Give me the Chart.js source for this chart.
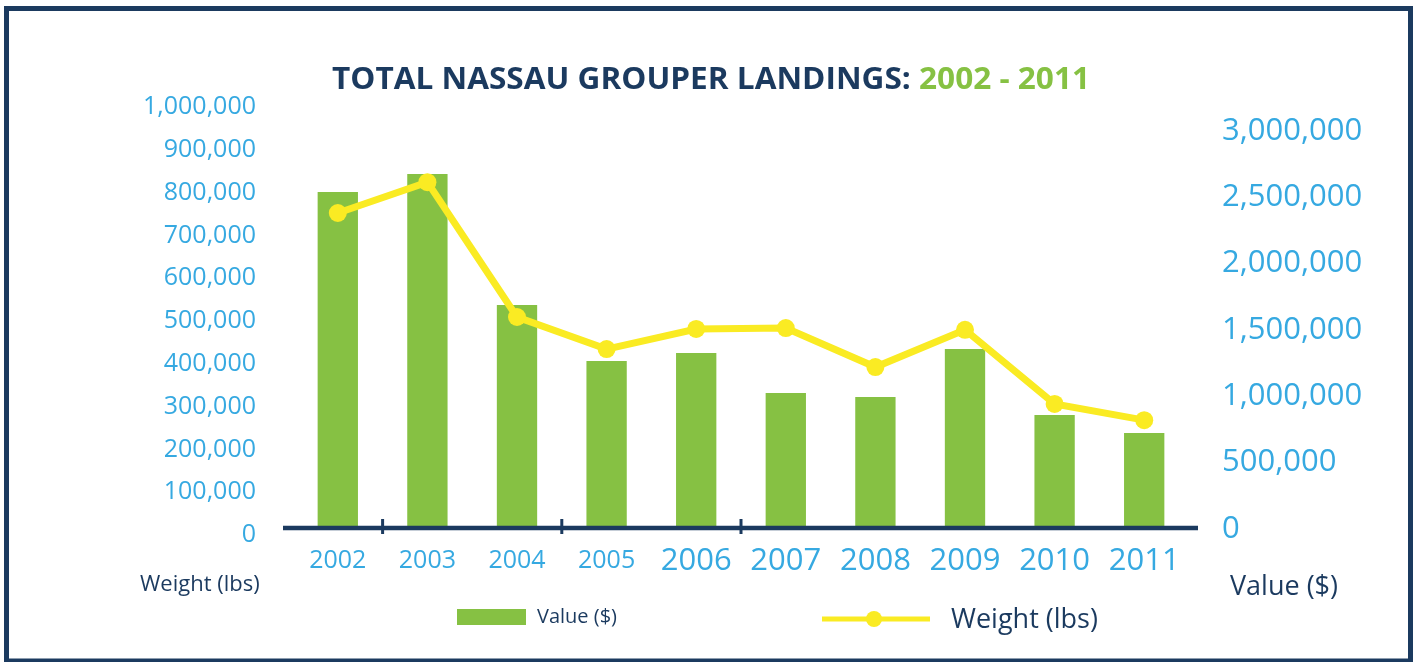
<!DOCTYPE html>
<html>
<head>
<meta charset="utf-8">
<script src="https://cdn.jsdelivr.net/npm/chart.js@4/dist/chart.umd.min.js"></script>
<style>
  html, body { margin: 0; padding: 0; background: #fff; }
</style>
</head>
<body>
<canvas id="landings" width="1414" height="662"></canvas>
<script>
// data
const years = ["2002", "2003", "2004", "2005", "2006", "2007", "2008", "2009", "2010", "2011"];
const valueDollars = [2533000, 2668000, 1681000, 1259000, 1319000, 1018000, 987000, 1349000, 852000, 716000];
const weightLbs = [736000, 808000, 493000, 418000, 465000, 467000, 376000, 463000, 290000, 252000];
const weightTicks = [0, 100000, 200000, 300000, 400000, 500000, 600000, 700000, 800000, 900000, 1000000];
const valueTicks = [0, 500000, 1000000, 1500000, 2000000, 2500000, 3000000];
// the x axis only has a small divider after these years
const dividerAfter = ["2002", "2004", "2006"];

const NAVY = "#1B3A5F";
const GREEN = "#86C143";
const YELLOW = "#FAEB23";
const BLUE = "#36A9E1";
const FONT = "'Open Sans', sans-serif";

const fmt = (v) => Number(v).toLocaleString("en-US");

// frame, title, baseline, axis titles and legend
const decorations = {
  id: "decorations",
  afterDatasetsDraw(chart) {
    const { ctx, chartArea } = chart;
    const x = chart.scales.x;
    ctx.save();

    // baseline with the odd little dividers
    ctx.strokeStyle = NAVY;
    ctx.lineWidth = 4.5;
    ctx.beginPath();
    ctx.moveTo(chartArea.left - 10, chartArea.bottom);
    ctx.lineTo(chartArea.right + 9, chartArea.bottom);
    ctx.stroke();
    ctx.lineWidth = 3;
    dividerAfter.forEach((yr) => {
      const i = years.indexOf(yr);
      const px = (x.getPixelForValue(i) + x.getPixelForValue(i + 1)) / 2;
      ctx.beginPath();
      ctx.moveTo(px, chartArea.bottom - 9);
      ctx.lineTo(px, chartArea.bottom + 6);
      ctx.stroke();
    });
    ctx.restore();
  },
  afterDraw(chart) {
    const { ctx } = chart;
    ctx.save();

    // outer frame
    ctx.strokeStyle = NAVY;
    ctx.lineWidth = 5;
    ctx.strokeRect(6.5, 8.5, 1404, 652.5);

    // title, two colours, squeezed to the reference width
    ctx.font = "bold 31px " + FONT;
    ctx.textBaseline = "middle";
    ctx.textAlign = "left";
    const part1 = "TOTAL NASSAU GROUPER LANDINGS: ";
    const part2 = "2002 - 2011";
    const w1 = ctx.measureText(part1).width;
    const w2 = ctx.measureText(part2).width;
    const sx = 758 / (w1 + w2);
    ctx.save();
    ctx.translate(332, 80);
    ctx.scale(sx, 1);
    ctx.fillStyle = NAVY;
    ctx.fillText(part1, 0, 0);
    ctx.fillStyle = GREEN;
    ctx.fillText(part2, w1, 0);
    ctx.restore();

    // axis titles
    ctx.fillStyle = NAVY;
    ctx.font = "22px " + FONT;
    ctx.fillText("Weight (lbs)", 140, 585);
    ctx.font = "27px " + FONT;
    ctx.fillText("Value ($)", 1230, 587);

    // legend
    ctx.fillStyle = GREEN;
    ctx.fillRect(457, 609, 69, 16);
    ctx.fillStyle = NAVY;
    ctx.font = "20px " + FONT;
    ctx.fillText("Value ($)", 537, 617);

    ctx.strokeStyle = YELLOW;
    ctx.lineWidth = 5;
    ctx.beginPath();
    ctx.moveTo(822, 619);
    ctx.lineTo(930, 619);
    ctx.stroke();
    ctx.fillStyle = YELLOW;
    ctx.beginPath();
    ctx.arc(874, 619, 8, 0, Math.PI * 2);
    ctx.fill();
    ctx.fillStyle = NAVY;
    ctx.font = "27px " + FONT;
    ctx.fillText("Weight (lbs)", 951, 620);

    ctx.restore();
  },
};

new Chart(document.getElementById("landings"), {
  type: "bar",
  data: {
    labels: years,
    datasets: [
      {
        type: "line",
        label: "Weight (lbs)",
        data: weightLbs,
        yAxisID: "y",
        order: 0,
        borderColor: YELLOW,
        backgroundColor: YELLOW,
        borderWidth: 7,
        pointRadius: 9,
        pointBackgroundColor: YELLOW,
        pointBorderWidth: 0,
        tension: 0,
      },
      {
        type: "bar",
        label: "Value ($)",
        data: valueDollars,
        yAxisID: "y1",
        order: 1,
        backgroundColor: GREEN,
        barPercentage: 0.45,
        categoryPercentage: 1,
      },
    ],
  },
  options: {
    responsive: false,
    animation: false,
    layout: { padding: { left: 113, right: 45, top: 100, bottom: 72 } },
    plugins: {
      legend: { display: false },
      tooltip: { enabled: false },
    },
    scales: {
      x: {
        grid: { display: false, drawTicks: false },
        border: { display: false },
        afterFit: (s) => { s.height = 62; },
        ticks: {
          color: BLUE,
          padding: 14,
          maxRotation: 0,
          autoSkip: false,
          font: (c) => ({ family: FONT, size: c.index < 4 ? 25 : 31, lineHeight: "38px" }),
        },
      },
      y: {
        position: "left",
        min: 0,
        max: 1000000,
        grid: { display: false, drawTicks: false },
        border: { display: false },
        afterFit: (s) => { s.width = 180; },
        afterBuildTicks: (s) => { s.ticks = weightTicks.map((v) => ({ value: v })); },
        ticks: {
          color: BLUE,
          padding: 37,
          labelOffset: 7,
          font: { family: FONT, size: 25 },
          callback: fmt,
        },
      },
      y1: {
        position: "right",
        min: 0,
        // 3,000,000 sits a little below the top of the plot in the reference
        max: 3000000 * 428 / 398,
        grid: { display: false, drawTicks: false },
        border: { display: false },
        afterFit: (s) => { s.width = 180; },
        afterBuildTicks: (s) => { s.ticks = valueTicks.map((v) => ({ value: v })); },
        ticks: {
          color: BLUE,
          padding: 33,
          labelOffset: 1,
          font: { family: FONT, size: 31 },
          callback: fmt,
        },
      },
    },
  },
  plugins: [decorations],
});
</script>
</body>
</html>
